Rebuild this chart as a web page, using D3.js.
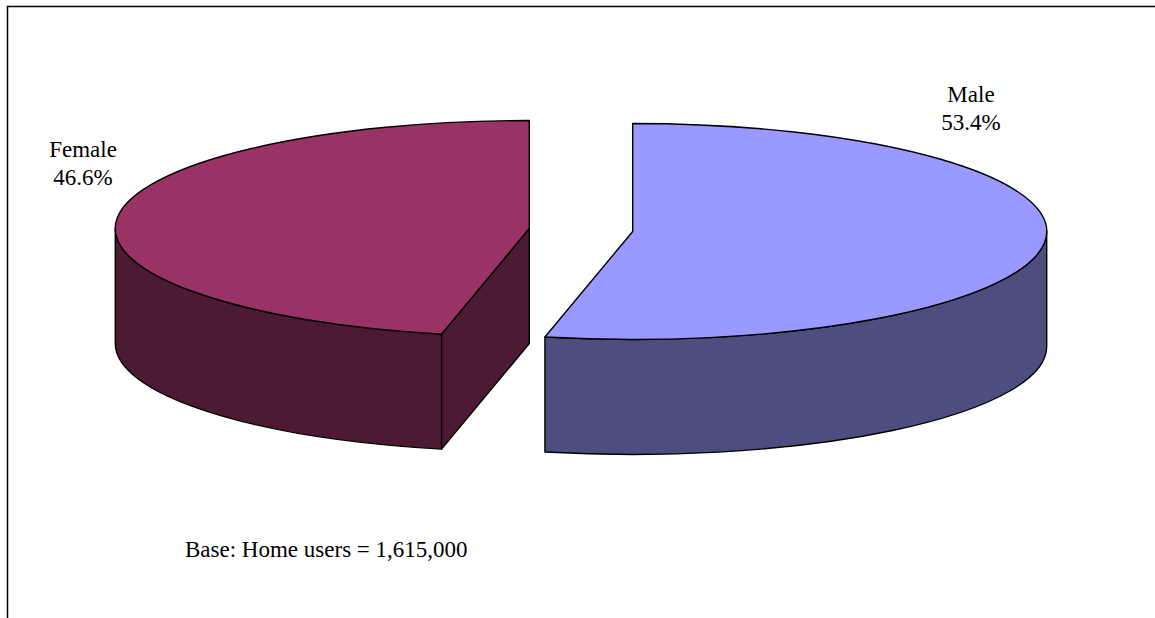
<!DOCTYPE html>
<html>
<head>
<meta charset="utf-8">
<script src="https://cdn.jsdelivr.net/npm/d3@7"></script>
<style>
  html, body { margin: 0; padding: 0; background: #fff; }
  svg { display: block; }
  text { font-family: "Liberation Serif", "Times New Roman", serif; fill: #000; }
</style>
</head>
<body>
<svg id="chart" width="1155" height="618"></svg>
<script>
// Home users by gender (percent)
const categories = ["Male", "Female"];
const values = [53.4, 46.6];
const labels = ["Male\n53.4%", "Female\n46.6%"];
const topColors = ["#9999ff", "#993366"];
const sideColors = ["#4d4d80", "#4d1a33"];
const footnote = "Base: Home users = 1,615,000";

const W = 1155, H = 618;
const svg = d3.select("#chart");

// outer frame (runs off the right and bottom edges)
svg.append("rect")
  .attr("x", 7.5).attr("y", 6.5)
  .attr("width", 1300).attr("height", 800)
  .attr("fill", "none").attr("stroke", "#000").attr("stroke-width", 1.5);

// 3D pie geometry
const cx = 581, cy = 230, rx = 414, ry = 108, depth = 115, explode = 52;

const pie = d3.pie().sort(null).value(d => d.value);
const arcs = pie(categories.map((c, i) => ({ name: c, value: values[i], i })));

const pt = (c, a, dz = 0) => [c[0] + rx * Math.sin(a), c[1] - ry * Math.cos(a) + dz];
const fmt = p => p[0].toFixed(2) + "," + p[1].toFixed(2);

function center(d) {
  const mid = (d.startAngle + d.endAngle) / 2;
  return [cx + explode * Math.sin(mid), cy - explode * (ry / rx) * Math.cos(mid)];
}

const g = svg.append("g")
  .attr("stroke", "#000").attr("stroke-width", 1.4).attr("stroke-linejoin", "round");

arcs.forEach(d => {
  const c = center(d);
  const a0 = d.startAngle, a1 = d.endAngle;
  const side = sideColors[d.data.i], top = topColors[d.data.i];

  // radial walls facing the viewer
  const radial = a => {
    const p = pt(c, a);
    return "M" + fmt(c) + "L" + fmt(p) + "L" + fmt([p[0], p[1] + depth]) +
           "L" + fmt([c[0], c[1] + depth]) + "Z";
  };
  if (Math.sin(a0) < -1e-6) g.append("path").attr("d", radial(a0)).attr("fill", side);
  if (Math.sin(a1) > 1e-6) g.append("path").attr("d", radial(a1)).attr("fill", side);

  // visible part of the curved outer wall (front half of the ellipse)
  const s = Math.max(a0, Math.PI / 2), e = Math.min(a1, 3 * Math.PI / 2);
  if (e > s) {
    const large = (e - s) > Math.PI ? 1 : 0;
    const d1 = "M" + fmt(pt(c, s)) +
      `A${rx},${ry} 0 ${large} 1 ` + fmt(pt(c, e)) +
      "L" + fmt(pt(c, e, depth)) +
      `A${rx},${ry} 0 ${large} 0 ` + fmt(pt(c, s, depth)) + "Z";
    g.append("path").attr("d", d1).attr("fill", side);
  }

  // top face
  const large = (a1 - a0) > Math.PI ? 1 : 0;
  const dTop = "M" + fmt(c) + "L" + fmt(pt(c, a0)) +
    `A${rx},${ry} 0 ${large} 1 ` + fmt(pt(c, a1)) + "Z";
  g.append("path").attr("d", dTop).attr("fill", top);
});

// data labels
const labelPos = [[971, 102], [83, 157]];
arcs.forEach(d => {
  const [lx, ly] = labelPos[d.data.i];
  const t = svg.append("text").attr("text-anchor", "middle").attr("font-size", 23);
  labels[d.data.i].split("\n").forEach((line, k) => {
    t.append("tspan").attr("x", lx).attr("y", ly + k * 28).text(line);
  });
});

// base note
svg.append("text")
  .attr("x", 185).attr("y", 557)
  .attr("font-size", 23)
  .text(footnote);
</script>
</body>
</html>
